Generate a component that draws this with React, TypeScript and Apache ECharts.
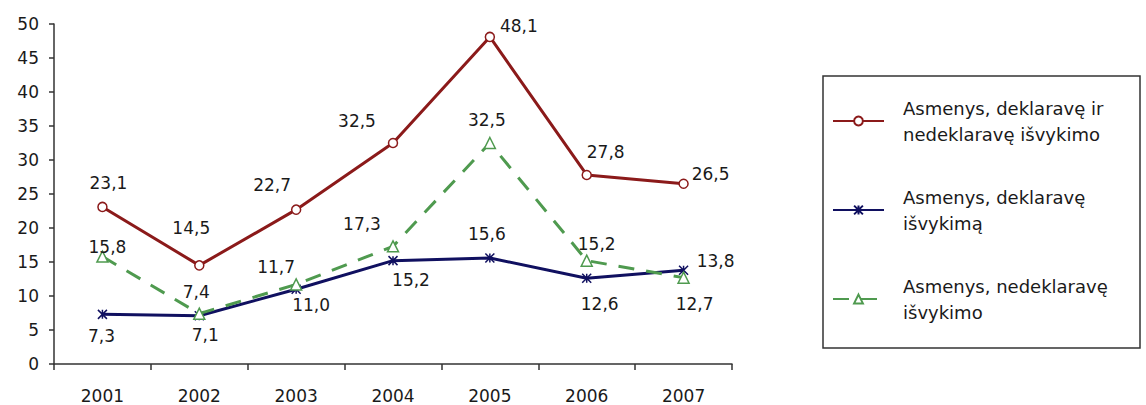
import React, { useEffect, useRef } from "react";
import * as echarts from "echarts";

const years = ["2001", "2002", "2003", "2004", "2005", "2006", "2007"];
const seriesNames = [
  "Asmenys, deklaravę ir nedeklaravę išvykimo",
  "Asmenys, deklaravę išvykimą",
  "Asmenys, nedeklaravę išvykimo",
];
const legendLabels = [
  "Asmenys, deklaravę ir\nnedeklaravę išvykimo",
  "Asmenys, deklaravę\nišvykimą",
  "Asmenys, nedeklaravę\nišvykimo",
];
const totalValues = [23.1, 14.5, 22.7, 32.5, 48.1, 27.8, 26.5];
const declaredValues = [7.3, 7.1, 11.0, 15.2, 15.6, 12.6, 13.8];
const undeclaredValues = [15.8, 7.4, 11.7, 17.3, 32.5, 15.2, 12.7];
const yTicks = { min: 0, max: 50, interval: 5 };

// label placement (style only): offsets of each label from its point, px
const totalLabelOffsets = [[6, -24], [-8, -37], [-24, -25], [-36, -22], [29, -11], [19, -23], [27, -10]];
const declaredLabelOffsets = [[-1, 22], [6, 19], [15, 16], [18, 19], [-3, -24], [13, 26], [32, -9]];
const undeclaredLabelOffsets = [[5, -10], [-3, -22], [-20, -17], [-31, -22], [-3, -23], [10, -17], [11, 26]];

const FONT = "DejaVu Sans";
const TEXT = "#1a1a1a";
const RED = "#8b1a1a";
const NAVY = "#101060";
const GREEN = "#4f9a4f";

const fmt = (v: number) => v.toFixed(1).replace(".", ",");

function withLabels(values: number[], offsets: number[][]) {
  return values.map((v, i) => ({
    value: v,
    label: { offset: offsets[i] },
  }));
}

export default function App() {
  const ref = useRef<HTMLDivElement>(null);
  useEffect(() => {
    if (!ref.current) return;
    const chart = echarts.init(ref.current, null, { renderer: "svg" });
    const labelBase = {
      show: true,
      position: "inside",
      align: "center",
      verticalAlign: "middle",
      fontFamily: FONT,
      fontSize: 17,
      color: TEXT,
      formatter: (p: any) => fmt(p.value),
    };
    chart.setOption({
      animation: false,
      backgroundColor: "#ffffff",
      textStyle: { fontFamily: FONT },
      grid: { left: 54, top: 24, width: 678, height: 340, containLabel: false },
      xAxis: {
        type: "category",
        data: years,
        boundaryGap: true,
        axisLine: { show: true, lineStyle: { color: "#333", width: 1.5 } },
        axisTick: { show: true, alignWithLabel: false, length: 6, lineStyle: { color: "#333", width: 1.5 } },
        axisLabel: { margin: 23, fontFamily: FONT, fontSize: 17, color: TEXT },
        splitLine: { show: false },
      },
      yAxis: {
        type: "value",
        min: yTicks.min,
        max: yTicks.max,
        interval: yTicks.interval,
        axisLine: { show: true, lineStyle: { color: "#333", width: 1.5 } },
        axisTick: { show: true, length: 5, lineStyle: { color: "#333", width: 1.5 } },
        axisLabel: { margin: 15, fontFamily: FONT, fontSize: 17, color: TEXT },
        splitLine: { show: false },
      },
      legend: {
        orient: "vertical",
        left: 827,
        top: 90,
        itemWidth: 51,
        itemHeight: 11,
        itemGap: 37,
        data: seriesNames,
        formatter: (name: string) => legendLabels[seriesNames.indexOf(name)],
        textStyle: {
          fontFamily: FONT,
          fontSize: 18,
          color: TEXT,
          lineHeight: 26,
          padding: [0, 0, 0, 14],
        },
      },
      graphic: [
        {
          type: "rect",
          shape: { x: 823, y: 76, width: 317, height: 272 },
          style: { fill: "none", stroke: "#333", lineWidth: 1.5 },
          z: -1,
        },
      ],
      series: [
        {
          name: seriesNames[0],
          type: "line",
          data: withLabels(totalValues, totalLabelOffsets),
          symbol: "circle",
          symbolSize: 9,
          lineStyle: { color: RED, width: 3 },
          itemStyle: { color: "#ffffff", borderColor: RED, borderWidth: 1.5 },
          label: labelBase,
          z: 3,
        },
        {
          name: seriesNames[1],
          type: "line",
          data: withLabels(declaredValues, declaredLabelOffsets),
          symbol: "path://M0,0L10,10M10,0L0,10M5,0L5,10",
          symbolSize: 9,
          lineStyle: { color: NAVY, width: 3 },
          itemStyle: { color: "#ffffff", borderColor: NAVY, borderWidth: 1.5 },
          label: labelBase,
          z: 2,
        },
        {
          name: seriesNames[2],
          type: "line",
          data: withLabels(undeclaredValues, undeclaredLabelOffsets),
          symbol: "triangle",
          symbolSize: 11,
          lineStyle: { color: GREEN, width: 3, type: [16, 12] },
          itemStyle: { color: "#ffffff", borderColor: GREEN, borderWidth: 1.5 },
          label: labelBase,
          z: 4,
        },
      ],
    });
    return () => chart.dispose();
  }, []);
  return (
    <div
      ref={ref}
      style={{ position: "absolute", left: 0, top: 0, width: 1146, height: 405 }}
    />
  );
}
